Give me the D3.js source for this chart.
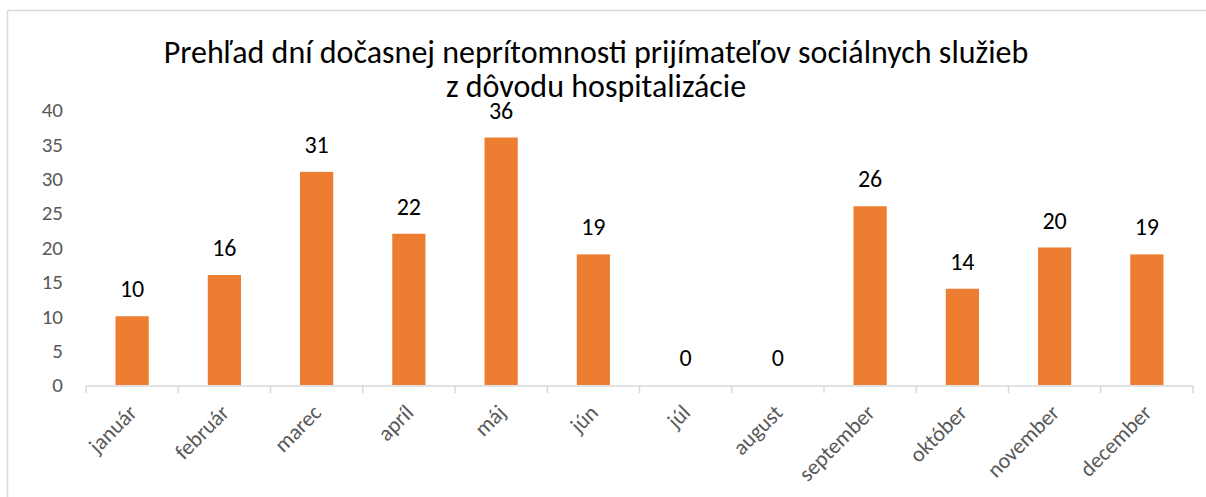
<!DOCTYPE html>
<html>
<head>
<meta charset="utf-8">
<script src="https://cdn.jsdelivr.net/npm/d3@7"></script>
<style>
  body { margin: 0; background: #fff; }
  svg { display: block; }
</style>
</head>
<body>
<div id="chart"></div>
<script>
// Data
const months = ['január', 'február', 'marec', 'apríl', 'máj', 'jún', 'júl', 'august', 'september', 'október', 'november', 'december'];
const days = [10, 16, 31, 22, 36, 19, 0, 0, 26, 14, 20, 19];
const yTicks = [0, 5, 10, 15, 20, 25, 30, 35, 40];
const titleLines = ['Prehľad dní dočasnej neprítomnosti prijímateľov sociálnych služieb', 'z dôvodu hospitalizácie'];

const width = 1206, height = 497;
const margin = { top: 110, right: 13, bottom: 112, left: 86 };
const font = 'Carlito, Calibri, "Liberation Sans Narrow", "Open Sans", sans-serif';

const svg = d3.select('#chart').append('svg')
    .attr('width', width)
    .attr('height', height);

// Chart frame
svg.append('rect')
    .attr('x', 7.5).attr('y', 10.5)
    .attr('width', width + 20).attr('height', height + 20)
    .attr('fill', 'none')
    .attr('stroke', '#d9d9d9')
    .attr('stroke-width', 1.5);

// Title
svg.append('g').selectAll('text')
    .data(titleLines)
    .join('text')
    .attr('x', 596)
    .attr('y', (d, i) => 63 + i * 34)
    .attr('text-anchor', 'middle')
    .attr('font-family', font)
    .attr('font-size', '32px')
    .attr('fill', '#000')
    .text(d => d);

const x = d3.scaleBand()
    .domain(months)
    .range([margin.left, width - margin.right])
    .paddingInner(0.64)
    .paddingOuter(0.32);

const y = d3.scaleLinear()
    .domain([0, 40])
    .range([height - margin.bottom, margin.top]);

// Y axis labels (no line, no gridlines)
svg.append('g').selectAll('text')
    .data(yTicks)
    .join('text')
    .attr('x', 63)
    .attr('y', d => y(d))
    .attr('dy', '0.35em')
    .attr('text-anchor', 'end')
    .attr('font-family', font)
    .attr('font-size', '21px')
    .attr('fill', '#595959')
    .text(d => d);

// Bars
svg.append('g').selectAll('rect')
    .data(days)
    .join('rect')
    .attr('x', (d, i) => x(months[i]))
    .attr('y', d => y(d))
    .attr('width', x.bandwidth())
    .attr('height', d => y(0) - y(d))
    .attr('fill', '#ed7d31');

// Data labels
svg.append('g').selectAll('text')
    .data(days)
    .join('text')
    .attr('x', (d, i) => x(months[i]) + x.bandwidth() / 2)
    .attr('y', d => y(d) - 19)
    .attr('text-anchor', 'middle')
    .attr('font-family', font)
    .attr('font-size', '24px')
    .attr('fill', '#000')
    .text(d => d);

// X axis
const step = x.step();
const xAxis = svg.append('g');
xAxis.append('line')
    .attr('x1', margin.left).attr('x2', width - margin.right)
    .attr('y1', y(0) + 1).attr('y2', y(0) + 1)
    .attr('stroke', '#d9d9d9').attr('stroke-width', 1.5);
xAxis.selectAll('.tick')
    .data(d3.range(months.length + 1))
    .join('line')
    .attr('x1', i => margin.left + i * step)
    .attr('x2', i => margin.left + i * step)
    .attr('y1', y(0) + 1).attr('y2', y(0) + 8)
    .attr('stroke', '#d9d9d9').attr('stroke-width', 1.5);

xAxis.selectAll('text')
    .data(months)
    .join('text')
    .attr('transform', d => `translate(${x(d) + x.bandwidth() / 2 + 6},${y(0) + 29}) rotate(-45)`)
    .attr('text-anchor', 'end')
    .attr('font-family', font)
    .attr('font-size', '22px')
    .attr('fill', '#595959')
    .text(d => d);
</script>
</body>
</html>
